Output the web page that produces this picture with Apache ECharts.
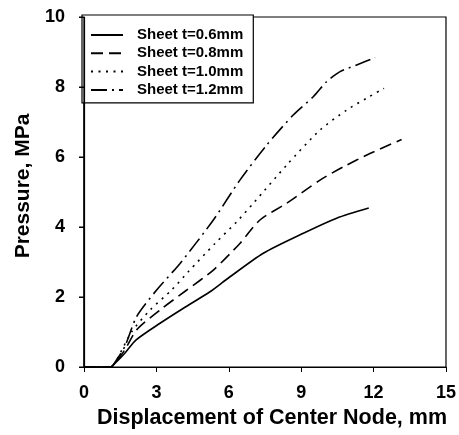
<!DOCTYPE html>
<html>
<head>
<meta charset="utf-8">
<script src="https://cdn.jsdelivr.net/npm/echarts@6/dist/echarts.min.js"></script>
<style>
  html, body { margin: 0; padding: 0; background: #fff; }
  #chart { width: 459px; height: 435px; }
</style>
</head>
<body>
<div id="chart"></div>
<script>
// Pressure vs. centre-node displacement for four sheet thicknesses
const seriesNames = ['Sheet t=0.6mm', 'Sheet t=0.8mm', 'Sheet t=1.0mm', 'Sheet t=1.2mm'];

const x06 = [0, 1.1, 1.28, 1.7, 2.15, 3.15, 4.12, 5.22, 5.9, 7.43, 9.09, 10.47, 11.8];
const y06 = [0, 0, 0.1, 0.4, 0.77, 1.25, 1.68, 2.15, 2.5, 3.25, 3.82, 4.25, 4.54];

const x08 = [0, 1.1, 1.3, 1.7, 2.18, 3.15, 4.26, 5.36, 6.46, 7.29, 8.4, 9.78, 10.75, 11.85, 13.16];
const y08 = [0, 0, 0.12, 0.5, 1.06, 1.63, 2.2, 2.77, 3.53, 4.2, 4.68, 5.34, 5.72, 6.1, 6.5];

const x10 = [0, 1.1, 1.3, 1.98, 2.74, 3.63, 4.32, 5.43, 6.33, 7.02, 8.4, 9.78, 10.88, 11.71, 12.43];
const y10 = [0, 0, 0.14, 1.01, 1.63, 2.2, 2.72, 3.53, 4.15, 4.68, 5.77, 6.77, 7.34, 7.68, 7.96];

const x12 = [0, 1.1, 1.3, 1.7, 2.18, 3.01, 3.98, 5.36, 6.46, 7.57, 8.67, 9.5, 10.05, 10.61, 11.3, 12.06];
const y12 = [0, 0, 0.15, 0.6, 1.44, 2.2, 2.96, 4.2, 5.34, 6.34, 7.2, 7.72, 8.15, 8.44, 8.63, 8.84];

const xTicks = [0, 3, 6, 9, 12, 15];
const yTicks = [0, 2, 4, 6, 8, 10];

const xTitle = 'Displacement of Center Node, mm';
const yTitle = 'Pressure, MPa';

const FONT = '"Liberation Sans", Arial, sans-serif';
const pairs = (xs, ys) => xs.map((v, i) => [v, ys[i]]);

const dashPatterns = ['solid', [12, 6], [2, 5.5], [16, 5, 2, 5]];
const xsAll = [x06, x08, x10, x12];
const ysAll = [y06, y08, y10, y12];

const chart = echarts.init(document.getElementById('chart'), null, { renderer: 'canvas' });

const labelStyle = { color: '#000', fontFamily: FONT, fontSize: 18, fontWeight: 'bold' };
const titleStyle = { color: '#000', fontFamily: FONT, fontWeight: 'bold' };

// main axes: line, ticks and tick labels (kept on their own layer)
function mainAxis(ticks, interval, margin) {
  return {
    type: 'value',
    min: ticks[0], max: ticks[ticks.length - 1], interval,
    zlevel: 1, z: 10,
    axisLine: { show: true, onZero: false, lineStyle: { color: '#000', width: 1.2 } },
    axisTick: { show: true, inside: false, length: 5, lineStyle: { color: '#000', width: 1 } },
    axisLabel: Object.assign({ margin }, labelStyle),
    splitLine: { show: false }
  };
}
// companion axes carrying only the axis titles
function titleAxis(ticks, name, nameGap, fontSize, padding) {
  return {
    type: 'value',
    min: ticks[0], max: ticks[ticks.length - 1],
    name, nameLocation: 'middle', nameGap,
    nameTextStyle: Object.assign({ fontSize, padding }, titleStyle),
    axisLine: { show: false }, axisTick: { show: false },
    axisLabel: { show: false }, splitLine: { show: false }
  };
}

chart.setOption({
  animation: false,
  backgroundColor: '#fff',
  grid: {
    left: 84, right: 12, top: 17, bottom: 68,
    show: true, borderColor: '#000', borderWidth: 1.2
  },
  legend: {
    left: 82, top: 15,
    orient: 'vertical',
    data: seriesNames,
    itemWidth: 32, itemHeight: 10, itemGap: 0.3,
    padding: [11, 10, 4, 8],
    borderColor: '#000', borderWidth: 1.2,
    backgroundColor: '#fff',
    itemStyle: { opacity: 0 },
    textStyle: {
      color: '#000', fontFamily: FONT, fontSize: 15, fontWeight: 'bold',
      lineHeight: 18, padding: [0, 0, 0, 9]
    }
  },
  xAxis: [
    Object.assign({ position: 'bottom' }, mainAxis(xTicks, 3, 17)),
    Object.assign({ position: 'bottom' }, titleAxis(xTicks, xTitle, 40, 21.5, [0, 0, 0, 14]))
  ],
  yAxis: [
    Object.assign({ position: 'left' }, mainAxis(yTicks, 2, 19)),
    Object.assign({ position: 'left' }, titleAxis(yTicks, yTitle, 50, 21, [0, 0, 0, 12]))
  ],
  series: seriesNames.map((name, k) => ({
    name,
    type: 'line',
    xAxisIndex: 0,
    yAxisIndex: 0,
    data: pairs(xsAll[k], ysAll[k]),
    smooth: 0.25,
    symbol: 'none',
    showSymbol: false,
    color: '#000',
    lineStyle: { color: '#000', width: 1.6, type: dashPatterns[k] }
  }))
});

// left frame edge and its outward ticks, placed through the axis scales
const px = (x, y) => chart.convertToPixel({ xAxisIndex: 0, yAxisIndex: 0 }, [x, y]);
const bottomLeft = px(xTicks[0], yTicks[0]);
const topLeft = px(xTicks[0], yTicks[yTicks.length - 1]);
const edgeStyle = { stroke: '#000', lineWidth: 1.2 };
const frameParts = [{
  type: 'line', zlevel: 2, z: 100, silent: true,
  shape: { x1: bottomLeft[0], y1: bottomLeft[1], x2: topLeft[0], y2: topLeft[1] },
  style: edgeStyle
}].concat(yTicks.map(v => {
  const p = px(xTicks[0], v);
  return {
    type: 'line', zlevel: 2, z: 100, silent: true,
    shape: { x1: p[0] - 5, y1: p[1], x2: p[0], y2: p[1] },
    style: { stroke: '#000', lineWidth: 1 }
  };
}));
chart.setOption({ graphic: frameParts });
</script>
</body>
</html>
